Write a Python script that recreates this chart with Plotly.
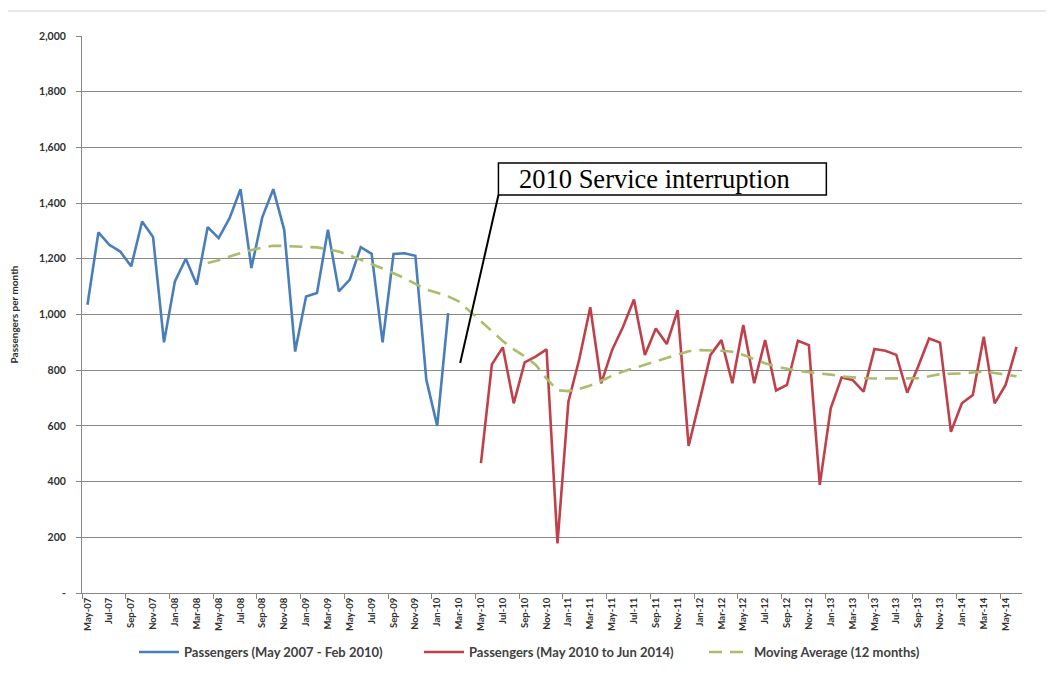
import plotly.graph_objects as go

months = ["May-07","Jun-07","Jul-07","Aug-07","Sep-07","Oct-07","Nov-07","Dec-07",
          "Jan-08","Feb-08","Mar-08","Apr-08","May-08","Jun-08","Jul-08","Aug-08","Sep-08","Oct-08","Nov-08","Dec-08",
          "Jan-09","Feb-09","Mar-09","Apr-09","May-09","Jun-09","Jul-09","Aug-09","Sep-09","Oct-09","Nov-09","Dec-09",
          "Jan-10","Feb-10","Mar-10","Apr-10","May-10","Jun-10","Jul-10","Aug-10","Sep-10","Oct-10","Nov-10","Dec-10",
          "Jan-11","Feb-11","Mar-11","Apr-11","May-11","Jun-11","Jul-11","Aug-11","Sep-11","Oct-11","Nov-11","Dec-11",
          "Jan-12","Feb-12","Mar-12","Apr-12","May-12","Jun-12","Jul-12","Aug-12","Sep-12","Oct-12","Nov-12","Dec-12",
          "Jan-13","Feb-13","Mar-13","Apr-13","May-13","Jun-13","Jul-13","Aug-13","Sep-13","Oct-13","Nov-13","Dec-13",
          "Jan-14","Feb-14","Mar-14","Apr-14","May-14","Jun-14"]

# Passengers May 2007 - Feb 2010
blue_vals = [1035, 1295, 1250, 1226, 1173, 1334, 1278, 900, 1119, 1200, 1107, 1314,
             1274, 1346, 1450, 1167, 1350, 1450, 1304, 867, 1065, 1077, 1304, 1083,
             1125, 1242, 1218, 900, 1217, 1220, 1211, 766, 600, 1005]
# Passengers May 2010 - Jun 2014
red_vals = [466, 821, 882, 681, 828, 849, 875, 178, 687, 840, 1026, 753,
            873, 956, 1054, 855, 950, 894, 1016, 528, 690, 855, 908, 753,
            962, 753, 908, 727, 747, 906, 890, 388, 663, 774, 765, 723,
            876, 870, 855, 719, 813, 914, 899, 579, 681, 711, 920, 681,
            747, 884]
# Moving average (12 months), Apr-08 .. Jun-14
ma_vals = [1185, 1195, 1208, 1220, 1232, 1240, 1247, 1246, 1244, 1243, 1241, 1234,
           1226, 1212, 1197, 1180, 1165, 1148, 1131, 1110, 1090, 1078, 1065, 1046,
           1010, 975, 940, 905, 875, 850, 820, 770, 728, 725, 733, 745,
           762, 780, 795, 808, 819, 832, 844, 856, 868, 872, 872, 870,
           866, 855, 840, 825, 813, 805, 798, 793, 789, 784, 778, 774,
           771, 770, 770, 770, 770, 771, 778, 786, 787, 788, 792, 795,
           790, 783, 778]

y_ticks = [0, 200, 400, 600, 800, 1000, 1200, 1400, 1600, 1800, 2000]
y_tick_labels = ["-", "200", "400", "600", "800", "1,000", "1,200", "1,400", "1,600", "1,800", "2,000"]

blue_start = months.index("May-07")
red_start = months.index("May-10")
ma_start = months.index("Apr-08")

x_blue = list(range(blue_start, blue_start + len(blue_vals)))
x_red = list(range(red_start, red_start + len(red_vals)))
x_ma = list(range(ma_start, ma_start + len(ma_vals)))

fig = go.Figure()
fig.add_trace(go.Scatter(x=x_blue, y=blue_vals, mode="lines",
                         line=dict(color="#4A7EBB", width=2.6),
                         name="Passengers (May 2007 - Feb 2010)"))
fig.add_trace(go.Scatter(x=x_red, y=red_vals, mode="lines",
                         line=dict(color="#C0404A", width=2.6),
                         name="Passengers (May 2010 to Jun 2014)"))
fig.add_trace(go.Scatter(x=x_ma, y=ma_vals, mode="lines",
                         line=dict(color="#A9BE6A", width=2.6, dash="13px,8px"),
                         name="Moving Average (12 months)"))

tick_idx = list(range(0, len(months), 2))

# figure-pixel geometry (page is offset by the 8px body margin)
W, H = 1038, 679
L, R, T, B = 74, 1014, 28, 585

def px(xp):
    return (xp - L) / (R - L)

def py(yp):
    return (B - yp) / (B - T)

fig.update_layout(
    width=W, height=H,
    margin=dict(l=L, r=W - R, t=T, b=H - B, autoexpand=False),
    paper_bgcolor="white", plot_bgcolor="white",
    font=dict(family="Lato, Liberation Sans, sans-serif", color="#404040"),
    showlegend=True,
    legend=dict(orientation="h", x=px(126), xanchor="left", y=py(644), yanchor="middle",
                font=dict(size=13, color="#404040", family="Lato, sans-serif", weight="bold"),
                itemwidth=40, entrywidth=230, entrywidthmode="pixels",
                bgcolor="rgba(0,0,0,0)"),
    xaxis=dict(range=[-0.5, len(months) - 0.5], tickmode="array",
               tickvals=tick_idx, ticktext=[months[i] for i in tick_idx],
               tickangle=-90, tickfont=dict(size=9.5, color="#303030", weight="bold"),
               showgrid=False, zeroline=False, showline=True, linecolor="#868686",
               ticks="", automargin=False,
               minor=dict(tick0=-0.5, dtick=4, ticks="outside", ticklen=5,
                          tickcolor="#868686", showgrid=False)),
    yaxis=dict(range=[0, 2000], tickmode="array", tickvals=y_ticks, ticktext=y_tick_labels,
               tickfont=dict(size=10.5, color="#303030", weight="bold"),
               ticklabelstandoff=8,
               showgrid=True, gridcolor="#8a8a8a", gridwidth=1, zeroline=False,
               showline=True, linecolor="#868686", ticks="outside", ticklen=5,
               tickcolor="#868686", automargin=False,
               title=dict(text="Passengers per month", standoff=34,
                          font=dict(size=10, color="#303030", weight="bold"))),
)

# outer chart frame
fig.add_shape(type="rect", xref="paper", yref="paper",
              x0=px(-1), x1=px(1045), y0=py(690), y1=py(3),
              line=dict(color="#d0d0d0", width=1), layer="below")

# annotation connector line and text box
fig.add_shape(type="line", xref="x", yref="y", x0=34.1, y0=826, x1=37.6, y1=1429,
              line=dict(color="black", width=2))
fig.add_shape(type="rect", xref="x", yref="y", x0=37.6, x1=67.6, y0=1429, y1=1544,
              line=dict(color="black", width=1.5), fillcolor="white")
fig.add_annotation(x=51.9, y=1488, xref="x", yref="y", text="2010 Service interruption",
                   showarrow=False,
                   font=dict(family="Liberation Serif, Times New Roman, serif", size=26.5, color="black"))

fig.write_html("out.html")
